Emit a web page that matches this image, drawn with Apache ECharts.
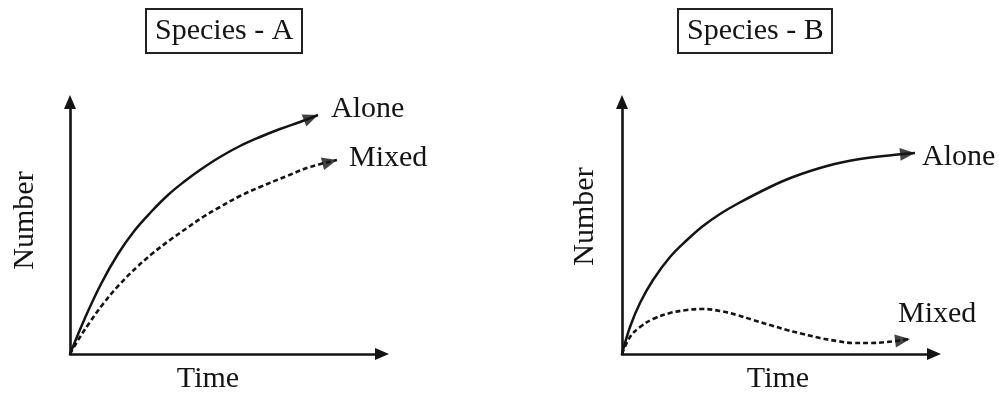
<!DOCTYPE html>
<html><head><meta charset="utf-8">
<script src="https://cdn.jsdelivr.net/npm/echarts@6/dist/echarts.min.js"></script>
<style>html,body{margin:0;padding:0;background:#fff}#c{width:999px;height:394px}</style>
</head><body><div id="c"></div>
<script>
// Panel titles and axis names
const panelTitles = ['Species - A', 'Species - B'];
const xAxisName = 'Time';
const yAxisName = 'Number';
const seriesNames = ['Alone', 'Mixed'];

// Species A (arbitrary units)
const aloneA_x = [0, 15, 31, 48, 65, 81, 98, 115, 130, 150, 170, 190, 210, 230, 248];
const aloneA_y = [0, 36, 70, 100, 124, 142, 159, 173, 184, 197, 208, 217, 225, 232, 239];
const mixedA_x = [0, 10, 20, 33, 50, 67, 83, 100, 117, 133, 150, 170, 190, 217, 240, 267];
const mixedA_y = [0, 17, 32, 50, 70, 87, 101, 114, 126, 137, 147, 158, 167, 178, 187, 194];

// Species B
const aloneB_x = [0, 8, 18, 31, 48, 65, 81, 98, 115, 148, 171, 205, 238, 271, 293];
const aloneB_y = [0, 27, 51, 74, 97, 114, 128, 140, 150, 167, 177, 188, 195, 199, 201];
const mixedB_x = [0, 8, 18, 31, 48, 65, 81, 98, 115, 131, 148, 165, 181, 198, 215, 231, 248, 265, 288];
const mixedB_y = [0, 17, 27, 35, 41, 44, 45, 43, 39, 34, 29, 24, 20, 16, 13, 11, 11, 12, 15];

const xMax = 312, yMax = 252;

const FONT = "'Liberation Serif','Times New Roman',serif";
const INK = '#141414';

const zip = (xs, ys) => xs.map((x, i) => [x, ys[i]]);

const chart = echarts.init(document.getElementById('c'), null, {renderer: 'canvas'});

function axisCommon() {
  return {
    type: 'value', min: 0, max: null,
    axisTick: {show: false}, axisLabel: {show: false}, splitLine: {show: false},
    axisLine: {show: true, onZero: false, symbol: ['none', 'triangle'], symbolSize: [12, 14],
      lineStyle: {color: INK, width: 2.6}}
  };
}

const grids = [
  {left: 70, top: 102, width: xMax, height: yMax, outerBoundsMode: 'none', containLabel: false},
  {left: 622, top: 102, width: xMax, height: yMax, outerBoundsMode: 'none', containLabel: false}
];

const xAxes = [0, 1].map(i => Object.assign(axisCommon(), {
  gridIndex: i, max: xMax, name: xAxisName, nameLocation: 'middle',
  nameGap: 10,
  nameTextStyle: {fontFamily: FONT, fontSize: 30, color: INK, verticalAlign: 'top',
    padding: i === 0 ? [0, 36, 0, 0] : [0, 0, 0, 0]}
}));
const yAxes = [0, 1].map(i => Object.assign(axisCommon(), {
  gridIndex: i, max: yMax, name: yAxisName, nameLocation: 'middle', nameRotate: 90,
  nameGap: i === 0 ? 30 : 22,
  nameTextStyle: {fontFamily: FONT, fontSize: 30, color: INK,
    padding: i === 0 ? [0, 0, 0, 15] : [0, 0, 0, 23]}
}));

const curves = [
  {name: seriesNames[0], g: 0, xs: aloneA_x, ys: aloneA_y, dashed: false, dist: 13, off: [0, -6]},
  {name: seriesNames[1], g: 0, xs: mixedA_x, ys: mixedA_y, dashed: true, dist: 12, off: [0, -2]},
  {name: seriesNames[0], g: 1, xs: aloneB_x, ys: aloneB_y, dashed: false, dist: 7, off: [0, 4]},
  {name: seriesNames[1], g: 1, xs: mixedB_x, ys: mixedB_y, dashed: true, dist: 0, off: [-12, -25]}
];

const series = [];
const AH = 15, AW = 13;
curves.forEach(c => {
  const data = zip(c.xs, c.ys);
  series.push({
    type: 'line', name: c.name, xAxisIndex: c.g, yAxisIndex: c.g,
    data: data, smooth: 0.4, symbol: 'none', silent: true,
    lineStyle: {color: INK, width: c.dashed ? 2.6 : 2.5, type: c.dashed ? [5, 3] : 'solid'},
    endLabel: {show: true, formatter: c.name, fontFamily: FONT, fontSize: 30, color: INK,
      distance: c.dist, offset: c.off}
  });
  const n = data.length;
  const dx = data[n - 1][0] - data[n - 2][0];
  const dy = data[n - 1][1] - data[n - 2][1];
  const th = Math.atan2(dy, dx);
  series.push({
    type: 'scatter', xAxisIndex: c.g, yAxisIndex: c.g, silent: true,
    data: [data[n - 1]], symbol: 'triangle', symbolSize: [AW, AH],
    symbolRotate: th * 180 / Math.PI - 90,
    symbolOffset: [-AH / 2 * Math.cos(th), AH / 2 * Math.sin(th)],
    itemStyle: {color: INK}
  });
});

chart.setOption({
  animation: false,
  backgroundColor: '#fff',
  title: panelTitles.map((t, i) => ({
    text: t, left: i === 0 ? 146 : 678, top: 9,
    textStyle: {fontFamily: FONT, fontSize: 30, fontWeight: 'normal', color: INK, lineHeight: 36},
    borderColor: '#222', borderWidth: 2, padding: [4, 9, 4, 9]
  })),
  grid: grids,
  xAxis: xAxes,
  yAxis: yAxes,
  series: series
});
</script>
</body></html>
